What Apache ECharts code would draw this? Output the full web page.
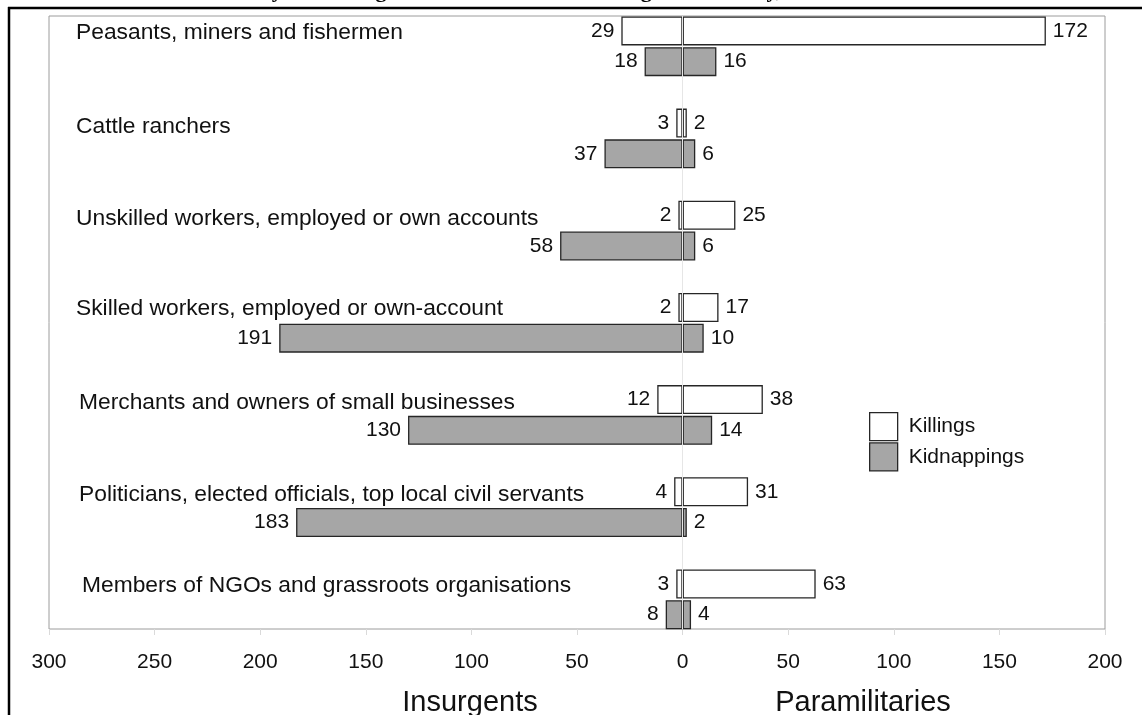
<!DOCTYPE html>
<html>
<head>
<meta charset="utf-8">
<script src="https://cdn.jsdelivr.net/npm/echarts@6/dist/echarts.min.js"></script>
<style>
html,body{margin:0;padding:0;background:#fff;}
#chart{width:1142px;height:715px;}
</style>
</head>
<body>
<div id="chart"></div>
<script>
const categories = [
  'Peasants, miners and fishermen',
  'Cattle ranchers',
  'Unskilled workers, employed or own accounts',
  'Skilled workers, employed or own-account',
  'Merchants and owners of small businesses',
  'Politicians, elected officials, top local civil servants',
  'Members of NGOs and grassroots organisations'
];
const killInsurgents      = [29, 3, 2, 2, 12, 4, 3];
const killParamilitaries  = [172, 2, 25, 17, 38, 31, 63];
const kidInsurgents       = [18, 37, 58, 191, 130, 183, 8];
const kidParamilitaries   = [16, 6, 6, 10, 14, 2, 4];
const seriesNames = ['Killings', 'Kidnappings'];
const sideNames = ['Insurgents', 'Paramilitaries'];
const titleText = 'by armed organisation in the Middle Magdalena Valley, 1990-2004';
const xMin = -300, xMax = 200, xStep = 50;

// label styling per category row (layout only)
const labelStyleKeys = ['p', 'a', 'a', 'b', 'm', 'm', 'n'];

const FONT = '"Liberation Sans", Arial, Helvetica, sans-serif';
const chart = echarts.init(document.getElementById('chart'), null, {renderer: 'canvas'});

const labelStyle = {show: true, distance: 7, fontSize: 21, fontFamily: FONT, color: '#111',
  formatter: p => Math.abs(p.value)};
const killStyle = {color: '#ffffff', borderColor: '#262626', borderWidth: 1.3};
const kidStyle = {color: '#a6a6a6', borderColor: '#262626', borderWidth: 1.3};
const catFont = {fontSize: 22.8, fontFamily: FONT, color: '#111'};

const option = {
  animation: false,
  backgroundColor: '#fff',
  grid: [
    {left: 49, right: 37, top: 0.2, height: 645.2, show: false},
    {left: 49, right: 37, top: 16, height: 613, show: true, borderColor: '#9c9c9c', borderWidth: 1, backgroundColor: 'transparent'}
  ],
  xAxis: [
    {gridIndex: 0, type: 'value', min: xMin, max: xMax, interval: xStep, show: false},
    {gridIndex: 1, type: 'value', min: xMin, max: xMax, interval: xStep,
      axisLine: {show: false}, splitLine: {show: false},
      axisTick: {show: true, length: 6, lineStyle: {color: '#dadada', width: 1}},
      axisLabel: {margin: 23, fontSize: 21, fontFamily: FONT, color: '#111',
        formatter: v => Math.abs(v)}}
  ],
  yAxis: [
    {gridIndex: 0, type: 'category', inverse: true, data: categories,
      axisLine: {show: false}, axisTick: {show: false}, splitLine: {show: false},
      axisLabel: Object.assign({inside: true, margin: 27, align: 'left', verticalAlign: 'bottom',
        lineHeight: 24,
        formatter: (v, i) => '{' + labelStyleKeys[i] + '|' + v + '}',
        rich: {
          p: Object.assign({lineHeight: 28}, catFont),
          a: Object.assign({lineHeight: 23}, catFont),
          b: Object.assign({lineHeight: 29}, catFont),
          m: Object.assign({lineHeight: 25, padding: [0, 0, 0, 3]}, catFont),
          n: Object.assign({lineHeight: 28, padding: [0, 0, 0, 6]}, catFont)
        }}, catFont)},
    {gridIndex: 1, type: 'value', min: 0, max: 1, show: false}
  ],
  legend: {
    data: seriesNames,
    orient: 'vertical', left: 864, top: 407,
    itemWidth: 28, itemHeight: 28, itemGap: 1,
    icon: 'rect',
    itemStyle: {borderColor: '#262626', borderWidth: 1.3},
    textStyle: {fontSize: 21, fontFamily: FONT, color: '#111', padding: [0, 0, 0, 6]},
    selectedMode: false
  },
  series: [
    {name: 'zero', type: 'line', xAxisIndex: 1, yAxisIndex: 1, data: [], silent: true, z: 1,
      markLine: {silent: true, symbol: 'none', label: {show: false},
        lineStyle: {color: '#e6e6e6', width: 1, type: 'solid'}, data: [{xAxis: 0}]}},
    {name: seriesNames[0], type: 'bar', xAxisIndex: 0, yAxisIndex: 0, stack: 'kill', z: 3,
      data: killInsurgents.map(v => -v), barWidth: 29, barGap: '6%', itemStyle: killStyle,
      label: Object.assign({position: 'left'}, labelStyle)},
    {name: seriesNames[0], type: 'bar', xAxisIndex: 0, yAxisIndex: 0, stack: 'kill', z: 3,
      data: killParamilitaries, barWidth: 29, barGap: '6%', itemStyle: killStyle,
      label: Object.assign({position: 'right'}, labelStyle)},
    {name: seriesNames[1], type: 'bar', xAxisIndex: 0, yAxisIndex: 0, stack: 'kid', z: 3,
      data: kidInsurgents.map(v => -v), barWidth: 29, barGap: '6%', itemStyle: kidStyle,
      label: Object.assign({position: 'left'}, labelStyle)},
    {name: seriesNames[1], type: 'bar', xAxisIndex: 0, yAxisIndex: 0, stack: 'kid', z: 3,
      data: kidParamilitaries, barWidth: 29, barGap: '6%', itemStyle: kidStyle,
      label: Object.assign({position: 'right'}, labelStyle)}
  ],
  graphic: [
    {type: 'text', left: 'center', top: -20, z: 10,
      style: {text: titleText, font: 'bold 22px "Liberation Serif", "Times New Roman", serif', fill: '#000'}},
    {type: 'line', z: 10, shape: {x1: 8, y1: 8, x2: 1142, y2: 8}, style: {stroke: '#000', lineWidth: 2.5}},
    {type: 'line', z: 10, shape: {x1: 9, y1: 7, x2: 9, y2: 715}, style: {stroke: '#000', lineWidth: 2.5}},
    {type: 'text', z: 10, x: 470, y: 703,
      style: {text: sideNames[0], font: '29px ' + FONT, fill: '#111', align: 'center', verticalAlign: 'middle'}},
    {type: 'text', z: 10, x: 863, y: 703,
      style: {text: sideNames[1], font: '29px ' + FONT, fill: '#111', align: 'center', verticalAlign: 'middle'}}
  ]
};
chart.setOption(option);
</script>
</body>
</html>
